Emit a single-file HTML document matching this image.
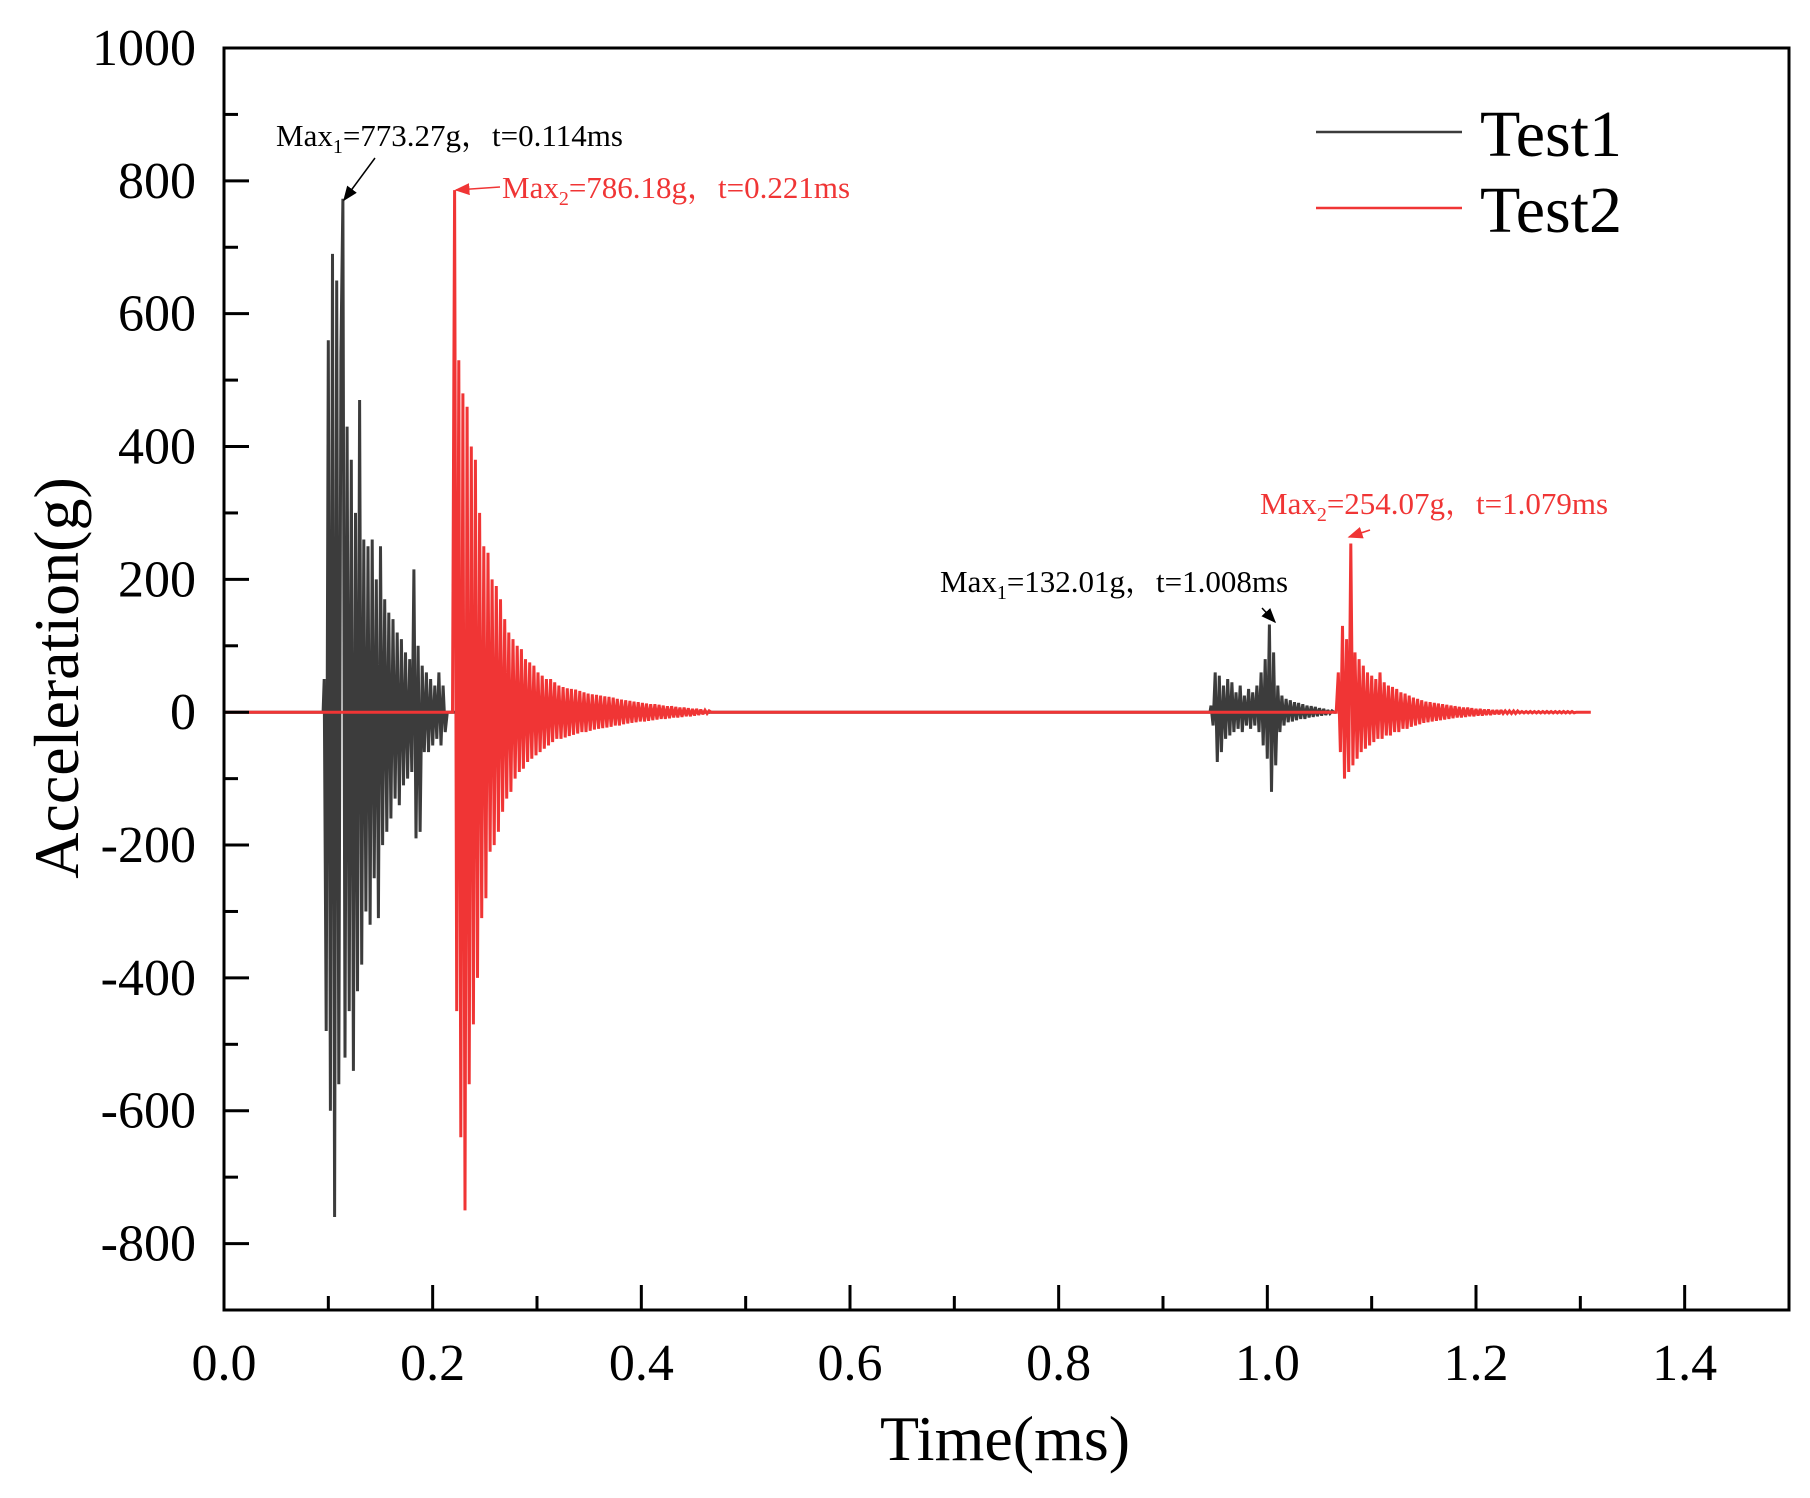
<!DOCTYPE html>
<html><head><meta charset="utf-8"><style>
html,body{margin:0;padding:0;background:#fff;}
svg{display:block;font-family:"Liberation Serif","Noto Serif CJK SC",serif;}
</style></head><body>
<svg id="chart" width="1810" height="1498" viewBox="0 0 1810 1498" xmlns="http://www.w3.org/2000/svg">
<g id="series"></g>
<g id="axes"></g>
<g id="annot"></g>
</svg>
<script>
const xTicks = [0.0,0.2,0.4,0.6,0.8,1.0,1.2,1.4];
const xTickLabels = ["0.0","0.2","0.4","0.6","0.8","1.0","1.2","1.4"];
const yTicks = [1000,800,600,400,200,0,-200,-400,-600,-800];
const yTickLabels = ["1000","800","600","400","200","0","-200","-400","-600","-800"];
const seriesNames = ["Test1","Test2"];
// Test1 bursts: start time, step (ms), peak values (g)
const t1aStart = 0.096, t1Step = 0.002;
const t1aValues = [50,-480,560,-600,690,-760,650,-560,540,773,-520,430,-450,380,-540,300,-420,470,-380,260,-300,250,-320,260,-250,200,-310,250,-200,170,-180,150,-160,140,-130,120,-140,110,-110,90,-100,80,-90,215,-190,100,-180,70,-60,60,-60,50,-50,40,-40,60,-50,40,-30,0];
const t1bStart = 0.946;
const t1bValues = [10,-20,60,-75,55,-60,40,-40,50,-35,45,-30,30,-25,40,-30,25,-20,35,-25,30,-20,40,-30,60,-50,80,-70,132,-120,90,-80,40,-30,25,-20,20,-15,18,-14,15,-12,14,-10,12,-10,10,-8,9,-7,8,-6,6,-5,5,-4,3,-2,2,0];
const t1End = 1.066;
// Test2 bursts
const t2aStart = 0.219, t2Step = 0.002;
const t2aValues = [0,786,-450,530,-640,480,-750,460,-560,400,-470,380,-400,300,-310,250,-280,240,-210,200,-200,190,-180,170,-150,140,-130,120,-120,110,-100,100,-90,95,-85,80,-75,75,-70,70,-65,60,-60,55,-55,50,-50,50,-45,45,-40,40,-40,38,-38,36,-36,35,-34,34,-32,32,-30,30,-30,28,-28,27,-26,26,-25,25,-24,24,-23,23,-22,22,-20,20,-20,19,-18,18,-17,17,-16,16,-15,15,-14,14,-14,13,-13,12,-12,12,-11,11,-10,10,-10,9,-9,9,-8,8,-8,7,-7,7,-6,6,-6,5,-5,5,-4,4,-3,3,-2,2,0];
const t2bStart = 1.066;
const t2bValues = [0,60,-60,130,-100,110,-90,254,-80,90,-70,80,-60,70,-55,60,-50,55,-45,50,-40,60,-40,45,-35,40,-35,38,-30,35,-30,30,-25,28,-25,25,-22,22,-20,20,-18,18,-16,16,-15,15,-14,14,-13,13,-12,12,-11,11,-10,10,-9,9,-8,8,-8,7,-7,7,-6,6,-6,5,-5,5,-5,4,-4,4,-4,3,-3,3,-3,3,-2,2,-2,2,-2,2,-2,2,-1,1,-1,1,-1,1,-1,1,-1,1,-1,1,-1,1,-1,1,-1,1,-1,1,-1,1,-1,1,-1,1,-1,0];
const t2End = 1.31;

const L=224,R=1789,T=48,B=1310, X0=0,X1=1.5,Y0=-900,Y1=1000;
const sx=v=>L+(v-X0)/(X1-X0)*(R-L);
const sy=v=>B-(v-Y0)/(Y1-Y0)*(B-T);
const NS="http://www.w3.org/2000/svg";
function mk(tag,attrs,parent){const e=document.createElementNS(NS,tag);for(const k in attrs)e.setAttribute(k,attrs[k]);parent.appendChild(e);return e;}
function burst(start,step,vals){
  const out=[[start-step/2,0]];
  vals.forEach((v,i)=>out.push([start+i*step,v]));
  out.push([start+vals.length*step,0]);
  return out;
}
function pts(arr){return arr.map(p=>sx(p[0]).toFixed(1)+","+sy(p[1]).toFixed(1)).join(" ");}

const sG=document.getElementById('series');
const s1=[[0,0]].concat(burst(t1aStart,t1Step,t1aValues),burst(t1bStart,t1Step,t1bValues),[[t1End,0]]);
const s2=[[0,0]].concat(burst(t2aStart,t2Step,t2aValues),burst(t2bStart,t2Step,t2bValues),[[t2End,0]]);
const p1=mk('polyline',{points:pts(s1),fill:'none',stroke:'#3c3c3c','stroke-width':3,'stroke-linejoin':'miter','stroke-miterlimit':2},sG);


const p2=mk('polyline',{points:pts(s2),fill:'none',stroke:'#f03535','stroke-width':3,'stroke-linejoin':'miter','stroke-miterlimit':2},sG);



const aG=document.getElementById('axes');
const fr=mk('rect',{x:L,y:T,width:R-L,height:B-T,fill:'none',stroke:'#000','stroke-width':3},aG);


for(let v=-800; v<=1000; v+=100){
  const major=v%200===0;
  const tk=mk('line',{x1:L,x2:L+(major?25:14),y1:sy(v),y2:sy(v),stroke:'#000','stroke-width':3},aG);
  
  
}
yTicks.forEach((v,i)=>{
  const t=mk('text',{x:L-28,y:sy(v)+17,'text-anchor':'end','font-size':52,fill:'#000'},aG);
  t.textContent=yTickLabels[i];
  
  
});
for(let i=1;i<=14;i++){
  const v=i/10, major=i%2===0;
  const tk=mk('line',{x1:sx(v),x2:sx(v),y1:B,y2:B-(major?25:14),stroke:'#000','stroke-width':3},aG);
  
  
}
xTicks.forEach((v,i)=>{
  const t=mk('text',{x:sx(v),y:B+70,'text-anchor':'middle','font-size':52,fill:'#000'},aG);
  t.textContent=xTickLabels[i];
  
  
});
const xt=mk('text',{x:1005,y:1460,'text-anchor':'middle','font-size':64,fill:'#000'},aG);
xt.textContent='Time(ms)';


const yt=mk('text',{x:0,y:0,'text-anchor':'middle','font-size':64,fill:'#000',transform:'translate(78,678) rotate(-90)'},aG);
yt.textContent='Acceleration(g)';



// legend
const lgC=['#3c3c3c','#f03535'], lgY=[132,208];
seriesNames.forEach((n,i)=>{
  const ln=mk('line',{x1:1316,x2:1462,y1:lgY[i],y2:lgY[i],stroke:lgC[i],'stroke-width':2.5},aG);
  
  
  const t=mk('text',{x:1480,y:lgY[i]+24,'font-size':66,fill:'#000'},aG);
  t.textContent=n;
  
  
});

// annotations
const nG=document.getElementById('annot');
mk('defs',{},nG).innerHTML='<marker id="ahk" markerWidth="10" markerHeight="8" refX="9" refY="4" orient="auto"><path d="M0,0 L10,4 L0,8 z" fill="#000"/></marker><marker id="ahr" markerWidth="10" markerHeight="8" refX="9" refY="4" orient="auto"><path d="M0,0 L10,4 L0,8 z" fill="#f03535"/></marker>';
function ann(x,y,html,col,name){
  const t=mk('text',{x:x,y:y,'font-size':31,fill:col},nG);
  t.innerHTML=html;
  
  
}
ann(276,146,'Max<tspan font-size="20" dy="7">1</tspan><tspan dy="-7">=773.27g，t=0.114ms</tspan>','#000','annotation-max1-first');
ann(502,198,'Max<tspan font-size="20" dy="7">2</tspan><tspan dy="-7">=786.18g，t=0.221ms</tspan>','#f03535','annotation-max2-first');
ann(940,592,'Max<tspan font-size="20" dy="7">1</tspan><tspan dy="-7">=132.01g，t=1.008ms</tspan>','#000','annotation-max1-second');
ann(1260,514,'Max<tspan font-size="20" dy="7">2</tspan><tspan dy="-7">=254.07g，t=1.079ms</tspan>','#f03535','annotation-max2-second');
const ar=[[375,158,344,200,'#000','ahk'],[500,187,456,190,'#f03535','ahr'],[1262,608,1275,622,'#000','ahk'],[1370,530,1349,537,'#f03535','ahr']];
ar.forEach(a=>{
  const l=mk('line',{x1:a[0],y1:a[1],x2:a[2],y2:a[3],stroke:a[4],'stroke-width':1.5,'marker-end':'url(#'+a[5]+')'},nG);
  
  
});
</script>
</body></html>
